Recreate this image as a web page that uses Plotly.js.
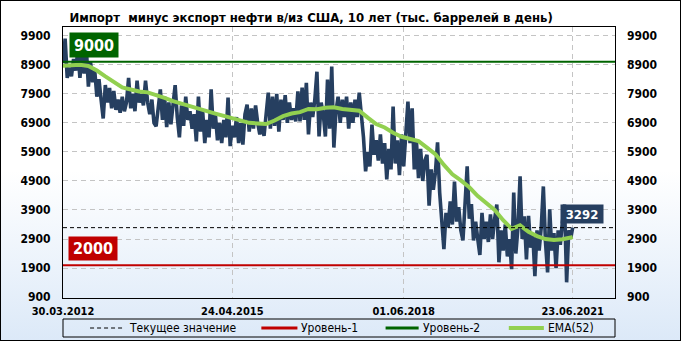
<!DOCTYPE html>
<html>
<head>
<meta charset="utf-8">
<script src="https://cdn.plot.ly/plotly-3.0.1.min.js"></script>
<style>
html,body{margin:0;padding:0;}
#wrap{width:681px;height:341px;box-sizing:border-box;border:1px solid #000;
 background:linear-gradient(to bottom,#ffffff 0%,#ffffff 50%,#dce9f8 100%);}
#chart{width:679px;height:339px;}
</style>
</head>
<body>
<div id="wrap"><div id="chart"></div></div>
<script>
// Bi-weekly net imports, thousand barrels/day
const importNet = [
 8950, 9800, 8450, 8800, 8500, 9100, 8700, 9400, 8450, 9300,
 8600, 9500, 8150, 9000, 8300, 8700, 7800, 8400, 7700, 7050,
 8200, 7600, 8100, 7400, 8000, 7350, 7700, 7250, 7800, 7300,
 7600, 8450, 7400, 7900, 7300, 8350, 7600, 7900, 7500, 8350,
 7600, 7200, 7700, 6900, 6780, 7500, 8050, 7000, 7800, 6750,
 7600, 6850, 7500, 8200, 7100, 6400, 7500, 6800, 7800, 7000,
 7300, 6700, 7200, 6260, 7800, 6600, 7300, 6200, 7000, 6400,
 8050, 6700, 7200, 6300, 6900, 6200, 7000, 6400, 7770, 6100,
 6800, 6400, 7100, 6200, 6900, 6150, 7200, 7530, 6600, 7400,
 6700, 7500, 6900, 6500, 6900, 6450, 7200, 7940, 6700, 7800,
 6800, 7900, 6600, 7700, 7000, 7850, 6900, 7600, 7000, 7400,
 6950, 7980, 6950, 8110, 7000, 8280, 6500, 7600, 7100, 7700,
 8660, 6430, 7600, 7200, 6430, 8390, 6700, 8840, 6050, 7300,
 7800, 6900, 7700, 7100, 7800, 6700, 7600, 6900, 7700, 7100,
 7940, 7300, 6400, 5230, 5900, 5400, 6840, 5800, 6300, 5600,
 6500, 5500, 6200, 4950, 6000, 5300, 7460, 5500, 6300, 5100,
 6500, 5400, 6600, 7630, 6200, 7400, 5300, 6300, 5000, 6000,
 4900, 5600, 5800, 4050, 5300, 4600, 5200, 6230, 4500, 3500,
 2550, 3800, 3300, 4200, 3400, 4880, 3500, 4000, 3200, 2850,
 4200, 5400, 3600, 4100, 2850, 3500, 2900, 2350, 3800, 2900,
 3500, 2800, 3750, 2900, 3600, 4090, 2100, 3200, 2500, 3400,
 2300, 2900, 1860, 4500, 2400, 3300, 5060, 2900, 3680, 2200,
 3700, 2600, 3100, 1620, 3200, 2500, 3300, 4710, 2800, 1750,
 3920, 2500, 3100, 1900, 3200, 2700, 3500, 4090, 1410, 3200,
 2950, 3292
];
// EMA(52) read every 8 weeks (every 4th point) plus the last point
const ema52 = [
 8870, 8880, 8900, 8860, 8700, 8500, 8300, 8120, 8050, 7980,
 7950, 7870, 7760, 7650, 7560, 7460, 7400, 7300, 7220, 7140,
 7060, 6950, 6900, 6880, 6860, 6980, 7130, 7220, 7270, 7380,
 7370, 7420, 7440, 7380, 7350, 7320, 7080, 6860, 6740, 6560,
 6420, 6340, 6270, 6050, 5820, 5450, 5130, 4920, 4680, 4380,
 4130, 3900, 3550, 3250, 3370, 3150, 3000, 2900, 2870, 2890,
 2950, 2970
];
const currentValue = 3292;
const level1 = 2000;
const level2 = 9000;
const yTicks = [900, 1900, 2900, 3900, 4900, 5900, 6900, 7900, 8900, 9900];
const xTickDates = ['2012-03-30', '2015-04-24', '2018-06-01', '2021-06-23'];
const xTickLabels = ['30.03.2012', '24.04.2015', '01.06.2018', '23.06.2021'];
const legendLabels = ['Текущее значение', 'Уровень-1', 'Уровень-2', 'EMA(52)'];
const titleText = 'Импорт  минус экспорт нефти в/из США, 10 лет (тыс. баррелей в день)';

// dates: bi-weekly from start, last point on the final report date
const startMs = Date.UTC(2012, 2, 30);
const dates = importNet.map((_, i) => i === importNet.length - 1 ? '2021-06-23'
  : new Date(startMs + i * 14 * 86400000).toISOString().slice(0, 10));
const emaDates = ema52.map((_, k) => dates[Math.min(k * 4, dates.length - 1)]);

const NAVY = '#263F60', RED = '#C00000', DGREEN = '#006400', LGREEN = '#92D050';
const FONT = 'DejaVu Sans Condensed, DejaVu Sans, sans-serif';

const traces = [
  {x: dates, y: importNet, type: 'scatter', mode: 'lines',
   line: {color: NAVY, width: 3.6}, hoverinfo: 'skip', showlegend: false},
  {x: emaDates, y: ema52, type: 'scatter', mode: 'lines',
   line: {color: LGREEN, width: 4}, hoverinfo: 'skip', showlegend: false},
  {x: [dates[0]], y: [yTicks[0]], yaxis: 'y2', type: 'scatter', mode: 'markers',
   marker: {opacity: 0}, hoverinfo: 'skip', showlegend: false}
];

const W = 551, H = 271, L = 63, T = 27;
const xp = px => (px - L) / W;
const yp = py => (T + H - py) / H;
const legY = yp(328);

const shapes = [
  {type: 'line', xref: 'paper', x0: 0, x1: 1, yref: 'y', y0: level2, y1: level2,
   line: {color: DGREEN, width: 2}, layer: 'above'},
  {type: 'line', xref: 'paper', x0: 0, x1: 1, yref: 'y', y0: level1, y1: level1,
   line: {color: RED, width: 2}, layer: 'above'},
  {type: 'line', xref: 'paper', x0: 0, x1: 1, yref: 'y', y0: currentValue, y1: currentValue,
   line: {color: '#000', width: 1, dash: '4px,3px'}, layer: 'above'},
  // legend box
  {type: 'rect', xref: 'paper', yref: 'paper', x0: 0, x1: 1, y0: yp(337), y1: yp(319),
   line: {color: '#000', width: 1}, fillcolor: 'rgba(0,0,0,0)'},
  {type: 'line', xref: 'paper', yref: 'paper', x0: xp(90), x1: xp(122), y0: legY, y1: legY,
   line: {color: '#000', width: 1, dash: '4px,3px'}},
  {type: 'line', xref: 'paper', yref: 'paper', x0: xp(261), x1: xp(297), y0: legY, y1: legY,
   line: {color: RED, width: 3}},
  {type: 'line', xref: 'paper', yref: 'paper', x0: xp(385), x1: xp(418), y0: legY, y1: legY,
   line: {color: DGREEN, width: 3}},
  {type: 'line', xref: 'paper', yref: 'paper', x0: xp(508), x1: xp(543), y0: legY, y1: legY,
   line: {color: LGREEN, width: 4}}
];

const legX = [127, 299, 420, 545];
const annotations = legendLabels.map((t, k) => ({
  text: t, xref: 'paper', yref: 'paper', x: xp(legX[k]), y: legY,
  xanchor: 'left', yanchor: 'middle', showarrow: false,
  font: {family: FONT, size: 12, color: '#000'}
}));
annotations.push(
  {text: String(level2), xref: 'paper', yref: 'paper', x: xp(94), y: yp(45),
   xanchor: 'center', yanchor: 'middle', showarrow: false, bgcolor: DGREEN,
   width: 48, height: 24, borderpad: 0,
   font: {family: FONT, size: 16, color: '#fff', weight: 'bold'}},
  {text: String(level1), xref: 'paper', yref: 'paper', x: xp(93), y: yp(248),
   xanchor: 'center', yanchor: 'middle', showarrow: false, bgcolor: RED,
   width: 48, height: 23, borderpad: 0,
   font: {family: FONT, size: 16, color: '#fff', weight: 'bold'}},
  {text: String(currentValue), xref: 'paper', yref: 'paper', x: xp(581), y: yp(214),
   xanchor: 'center', yanchor: 'middle', showarrow: false, bgcolor: NAVY,
   width: 42, height: 18, borderpad: 0,
   font: {family: FONT, size: 13, color: '#fff', weight: 'bold'}}
);

const yRange = [870, 10200];
const layout = {
  width: 679, height: 339,
  margin: {l: 62, r: 65, t: 26, b: 42},
  paper_bgcolor: 'rgba(0,0,0,0)', plot_bgcolor: 'rgba(0,0,0,0)',
  showlegend: false,
  title: {text: titleText, x: 311 / 681, xref: 'container', xanchor: 'center',
          y: 1 - 16 / 339, yref: 'container', yanchor: 'middle',
          font: {family: FONT, size: 13, color: '#000', weight: 'bold'}},
  xaxis: {type: 'date', range: ['2012-03-30', '2022-03-30'],
          tickvals: xTickDates, ticktext: xTickLabels,
          showgrid: true, gridcolor: '#c4c4c4', griddash: '5px,4px', gridwidth: 1,
          showline: true, mirror: true, linecolor: '#000', linewidth: 1,
          ticks: '', ticklabelstandoff: 3, zeroline: false,
          tickfont: {family: FONT, size: 11, color: '#000', weight: 'bold'}},
  yaxis: {range: yRange, tickvals: yTicks, ticktext: yTicks.map(String),
          showgrid: true, gridcolor: '#c4c4c4', griddash: '5px,4px', gridwidth: 1,
          showline: true, mirror: true, linecolor: '#000', linewidth: 1,
          ticks: '', ticklabelstandoff: 9, zeroline: false,
          tickfont: {family: FONT, size: 12, color: '#000', weight: 'bold'}},
  yaxis2: {range: yRange, tickvals: yTicks, ticktext: yTicks.map(String),
          overlaying: 'y', side: 'right', showgrid: false, showline: false,
          ticks: '', ticklabelstandoff: 11, zeroline: false,
          tickfont: {family: FONT, size: 12, color: '#000', weight: 'bold'}},
  shapes: shapes,
  annotations: annotations
};

Plotly.newPlot('chart', traces, layout, {staticPlot: true, displayModeBar: false});
</script>
</body>
</html>
